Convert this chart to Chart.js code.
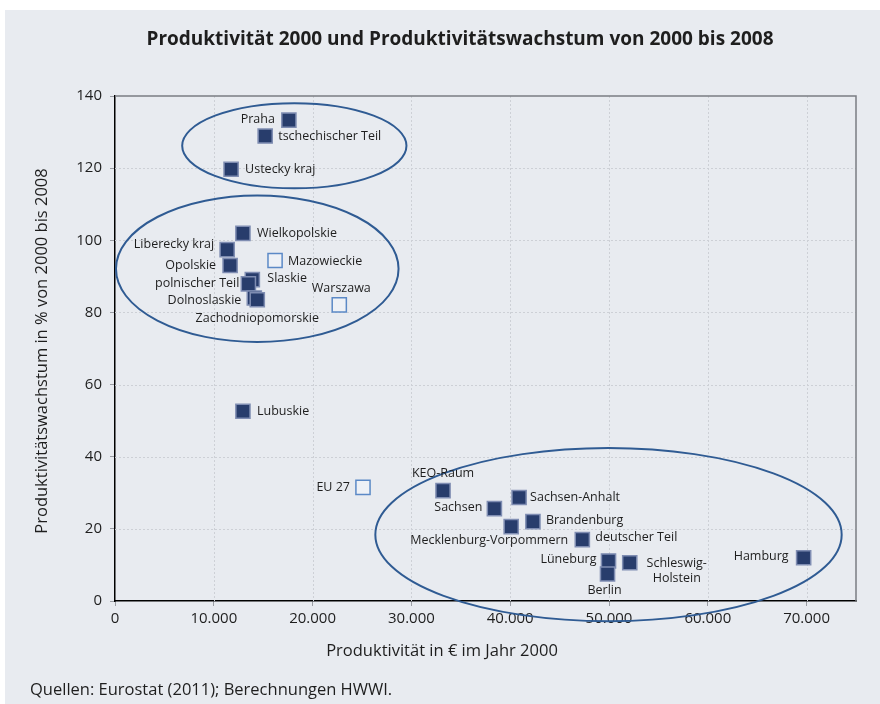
<!DOCTYPE html>
<html>
<head>
<meta charset="utf-8">
<script src="https://cdn.jsdelivr.net/npm/chart.js@4.4.1/dist/chart.umd.min.js"></script>
<style>
  html, body { margin: 0; padding: 0; background: #fff; }
  canvas { display: block; }
</style>
</head>
<body>
<canvas id="scatterChart" width="880" height="704"></canvas>
<script>
// regions (filled squares)
const regionNames = [
  "Praha", "tschechischer Teil", "Ustecky kraj",
  "Wielkopolskie", "Liberecky kraj", "Opolskie", "Slaskie", "polnischer Teil",
  "Dolnoslaskie", "Zachodniopomorskie", "Lubuskie",
  "KEO-Raum", "Sachsen-Anhalt", "Sachsen", "Brandenburg", "Mecklenburg-Vorpommern",
  "deutscher Teil", "Lüneburg", "Schleswig-Holstein", "Berlin", "Hamburg"
];
const regionProd = [
  17600, 15200, 11750,
  12950, 11350, 11650, 13900, 13500,
  14100, 14400, 12950,
  33200, 40900, 38400, 42300, 40100,
  47300, 49950, 52100, 49850, 69700
];
const regionGrowth = [
  133.3, 128.9, 119.7,
  101.9, 97.4, 93.0, 89.1, 87.9,
  84.0, 83.5, 52.6,
  30.6, 28.7, 25.6, 22.0, 20.6,
  17.0, 11.1, 10.6, 7.5, 12.0
];

// reference values (open squares)
const refNames = ["Mazowieckie", "Warszawa", "EU 27"];
const refProd = [16200, 22700, 25100];
const refGrowth = [94.4, 82.1, 31.5];

const xTicks = [0, 10000, 20000, 30000, 40000, 50000, 60000, 70000];
const yTicks = [0, 20, 40, 60, 80, 100, 120, 140];

// circled groups (data units)
const groupCenterX = [18150, 14400, 49950];
const groupCenterY = [126.2, 92.1, 18.4];
const groupRadiusX = [11350, 14300, 23600];
const groupRadiusY = [11.8, 20.3, 24.0];

// label placement: [align, dx, dy] relative to the marker
const regionLabelPos = {
  "Praha": ["right", -14, -1],
  "tschechischer Teil": ["left", 13, 0],
  "Ustecky kraj": ["left", 14, 0],
  "Wielkopolskie": ["left", 14, 0],
  "Liberecky kraj": ["right", -13, -5],
  "Opolskie": ["right", -14, 0],
  "Slaskie": ["left", 15, -1],
  "polnischer Teil": ["right", -9, 0],
  "Dolnoslaskie": ["right", -13, 2],
  "Zachodniopomorskie": ["center", 0, 19],
  "Lubuskie": ["left", 14, 0],
  "KEO-Raum": ["center", 0, -17],
  "Sachsen-Anhalt": ["left", 11, 0],
  "Sachsen": ["right", -12, -1],
  "Brandenburg": ["left", 13, -1],
  "Mecklenburg-Vorpommern": ["center", -22, 14],
  "deutscher Teil": ["left", 13, -2],
  "Lüneburg": ["right", -12, -2],
  "Schleswig-Holstein": ["center", 47, 1],
  "Berlin": ["center", -3, 16],
  "Hamburg": ["right", -15, -1],
  "Mazowieckie": ["left", 13, 1],
  "Warszawa": ["center", 2, -16],
  "EU 27": ["right", -13, 0]
};

const fontFamily = "'Open Sans', 'DejaVu Sans', sans-serif";
const textColor = "#1e1e1e";

function formatThousands(v) {
  return String(v).replace(/\B(?=(\d{3})+(?!\d))/g, ".");
}

const frame = {
  id: "frame",
  beforeDraw(chart) {
    const ctx = chart.ctx;
    ctx.save();
    ctx.fillStyle = "#ffffff";
    ctx.fillRect(0, 0, chart.width, chart.height);
    ctx.fillStyle = "#e8ebf0";
    ctx.fillRect(5, 10, chart.width - 5, chart.height - 10);
    ctx.restore();
  },
  beforeDatasetsDraw(chart) {
    const { ctx, chartArea: a, scales } = chart;
    ctx.save();
    ctx.strokeStyle = "#cdd0d6";
    ctx.lineWidth = 1;
    ctx.setLineDash([2, 2]);
    xTicks.forEach((v) => {
      if (v === 0) return;
      const x = Math.round(scales.x.getPixelForValue(v)) + 0.5;
      ctx.beginPath();
      ctx.moveTo(x, a.top);
      ctx.lineTo(x, a.bottom);
      ctx.stroke();
    });
    yTicks.forEach((v) => {
      if (v === 0 || v === 140) return;
      const y = Math.round(scales.y.getPixelForValue(v)) + 0.5;
      ctx.beginPath();
      ctx.moveTo(a.left, y);
      ctx.lineTo(a.right, y);
      ctx.stroke();
    });
    ctx.setLineDash([]);
    // top and right frame
    ctx.strokeStyle = "#7a7d82";
    ctx.lineWidth = 1.5;
    ctx.beginPath();
    ctx.moveTo(a.left, a.top);
    ctx.lineTo(a.right, a.top);
    ctx.lineTo(a.right, a.bottom);
    ctx.stroke();
    ctx.restore();
  },
  afterDraw(chart) {
    const { ctx, scales } = chart;
    ctx.save();
    // circled groups
    ctx.strokeStyle = "#2f5b93";
    ctx.lineWidth = 2;
    groupCenterX.forEach((cx, i) => {
      const px = scales.x.getPixelForValue(cx);
      const py = scales.y.getPixelForValue(groupCenterY[i]);
      const rx = scales.x.getPixelForValue(cx + groupRadiusX[i]) - px;
      const ry = py - scales.y.getPixelForValue(groupCenterY[i] + groupRadiusY[i]);
      ctx.beginPath();
      ctx.ellipse(px, py, rx, ry, 0, 0, Math.PI * 2);
      ctx.stroke();
    });

    // point labels
    ctx.fillStyle = textColor;
    ctx.font = "12.5px " + fontFamily;
    ctx.textBaseline = "middle";
    chart.data.datasets.forEach((ds, di) => {
      const meta = chart.getDatasetMeta(di);
      meta.data.forEach((pt, i) => {
        const name = ds.names[i];
        const pos = regionLabelPos[name] || ["left", 13, 0];
        ctx.textAlign = pos[0];
        const lines = name === "Schleswig-Holstein" ? ["Schleswig-", "Holstein"] : [name];
        lines.forEach((ln, k) => {
          ctx.fillText(ln, pt.x + pos[1], pt.y + pos[2] + k * 15);
        });
      });
    });

    // titles
    ctx.textAlign = "center";
    ctx.font = "bold 19px " + fontFamily;
    ctx.fillText("Produktivität 2000 und Produktivitätswachstum von 2000 bis 2008", 460, 40);
    ctx.font = "16.5px " + fontFamily;
    ctx.fillText("Produktivität in € im Jahr 2000", 442, 651);
    ctx.textAlign = "left";
    ctx.fillText("Quellen: Eurostat (2011); Berechnungen HWWI.", 30, 690);
    ctx.translate(42, 351);
    ctx.rotate(-Math.PI / 2);
    ctx.textAlign = "center";
    ctx.fillText("Produktivitätswachstum in % von 2000 bis 2008", 0, 0);
    ctx.restore();
  }
};

const ctx = document.getElementById("scatterChart").getContext("2d");
new Chart(ctx, {
  type: "scatter",
  data: {
    datasets: [
      {
        label: "Regionen",
        names: regionNames,
        data: regionProd.map((x, i) => ({ x, y: regionGrowth[i] })),
        pointStyle: "rect",
        pointRadius: 10,
        pointHoverRadius: 10,
        backgroundColor: "#283d6c",
        borderColor: "#7f8db2",
        borderWidth: 1.5
      },
      {
        label: "Vergleich",
        names: refNames,
        data: refProd.map((x, i) => ({ x, y: refGrowth[i] })),
        pointStyle: "rect",
        pointRadius: 10,
        pointHoverRadius: 10,
        backgroundColor: "#eef1f6",
        borderColor: "#5b89c6",
        borderWidth: 1.5
      }
    ]
  },
  options: {
    responsive: false,
    animation: false,
    devicePixelRatio: 1,
    layout: { padding: { top: 96, left: 5, right: 24, bottom: 0 } },
    plugins: {
      legend: { display: false },
      tooltip: { enabled: false }
    },
    scales: {
      x: {
        type: "linear",
        min: 0,
        max: 75000,
        afterBuildTicks: (scale) => { scale.ticks = xTicks.map((v) => ({ value: v })); },
        afterFit: (scale) => { scale.height = 103; },
        grid: { drawOnChartArea: false, drawTicks: true, tickLength: 5, tickColor: "#9a9da3" },
        border: { color: "#000", width: 1.5 },
        ticks: {
          padding: 4,
          color: textColor,
          font: { family: fontFamily, size: 15 },
          maxRotation: 0,
          callback: (v) => formatThousands(v)
        }
      },
      y: {
        type: "linear",
        min: 0,
        max: 140,
        afterBuildTicks: (scale) => { scale.ticks = yTicks.map((v) => ({ value: v })); },
        afterFit: (scale) => { scale.width = 110; },
        grid: { drawOnChartArea: false, drawTicks: true, tickLength: 5, tickColor: "#9a9da3" },
        border: { color: "#000", width: 1.5 },
        ticks: {
          padding: 8,
          color: textColor,
          font: { family: fontFamily, size: 15 }
        }
      }
    }
  },
  plugins: [frame]
});
</script>
</body>
</html>
